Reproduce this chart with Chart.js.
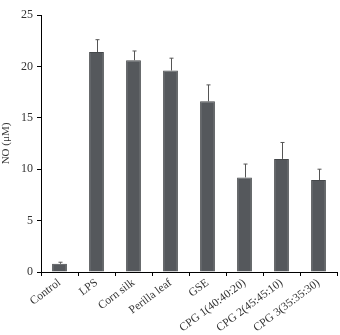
<!DOCTYPE html>
<html>
<head>
<meta charset="utf-8">
<script src="https://cdn.jsdelivr.net/npm/chart.js@4"></script>
<style>
  html, body { margin: 0; padding: 0; background: #fff; }
  #wrap { width: 340px; height: 335px; }
</style>
</head>
<body>
<div id="wrap"><canvas id="noChart"></canvas></div>
<script>
const labels = ['Control', 'LPS', 'Corn silk', 'Perilla leaf', 'GSE',
    'CPG 1(40:40:20)', 'CPG 2(45:45:10)', 'CPG 3(35:35:30)'];
const noValues = [0.8, 21.4, 20.6, 19.6, 16.6, 9.2, 11.0, 8.95];
const noErrors = [0.15, 1.2, 0.9, 1.2, 1.6, 1.3, 1.6, 1.05];
const yTicks = [0, 5, 10, 15, 20, 25];

const serif = '"Liberation Serif", "DejaVu Serif", serif';

// upward error bars with a small cap
const errorBars = {
    id: 'errorBars',
    afterDatasetsDraw(chart) {
        const ctx = chart.ctx;
        const meta = chart.getDatasetMeta(0);
        const y = chart.scales.y;
        ctx.save();
        ctx.strokeStyle = '#555';
        ctx.lineWidth = 1;
        meta.data.forEach((bar, i) => {
            const x = Math.round(bar.x) + 0.5;
            const top = y.getPixelForValue(noValues[i] + noErrors[i]);
            ctx.beginPath();
            ctx.moveTo(x, bar.y);
            ctx.lineTo(x, top);
            ctx.moveTo(x - 2, top);
            ctx.lineTo(x + 2, top);
            ctx.stroke();
        });
        ctx.restore();
    }
};

const config = {
    type: 'bar',
    data: {
        labels: labels,
        datasets: [{
            data: noValues,
            backgroundColor: '#55585c',
            borderColor: '#45484b',
            borderWidth: 1,
            barPercentage: 0.4,
            categoryPercentage: 1.0
        }]
    },
    options: {
        responsive: true,
        maintainAspectRatio: false,
        animation: false,
        layout: { padding: { top: 15, right: 3, left: 0, bottom: 0 } },
        plugins: {
            legend: { display: false },
            tooltip: { enabled: false }
        },
        scales: {
            x: {
                offset: true,
                grid: {
                    offset: true,
                    drawOnChartArea: false,
                    drawTicks: true,
                    tickLength: 4,
                    lineWidth: 1,
                    color: '#000'
                },
                border: { display: true, color: '#000', width: 1 },
                ticks: {
                    color: '#333',
                    font: { family: serif, size: 11.5 },
                    minRotation: 37,
                    maxRotation: 37,
                    autoSkip: false,
                    padding: 0
                },
                afterFit(scale) { scale.height = 63; }
            },
            y: {
                min: 0,
                max: 25,
                afterBuildTicks(scale) {
                    scale.ticks = yTicks.map(v => ({ value: v }));
                },
                grid: {
                    drawOnChartArea: false,
                    drawTicks: true,
                    tickLength: 4,
                    color: '#000'
                },
                border: { display: true, color: '#000', width: 1 },
                ticks: {
                    color: '#333',
                    font: { family: serif, size: 12 },
                    padding: 4
                },
                title: {
                    display: true,
                    text: 'NO (μM)',
                    color: '#333',
                    font: { family: serif, size: 11 },
                    padding: 0
                },
                afterFit(scale) { scale.width = 41; }
            }
        }
    },
    plugins: [errorBars]
};

new Chart(document.getElementById('noChart').getContext('2d'), config);
</script>
</body>
</html>
